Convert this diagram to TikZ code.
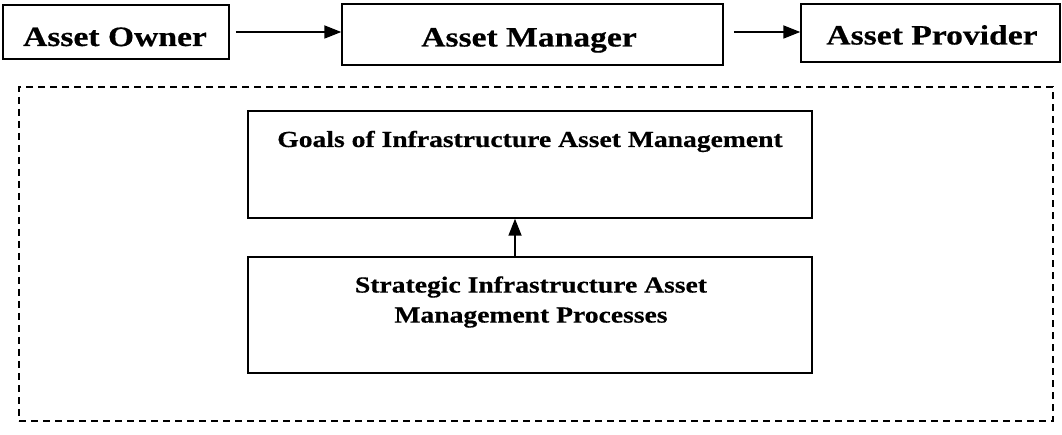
\documentclass[tikz,border=0pt]{standalone}
\usepackage{fontspec}
\setmainfont{Liberation Serif}[FakeStretch=1.2,BoldFeatures={FakeBold=0.5}]
\usetikzlibrary{arrows.meta}
\begin{document}
\begin{tikzpicture}[x=1pt,y=-1pt,
  boxnode/.style={draw=black,line width=1.5pt,rectangle,inner sep=0pt},
  bigtext/.style={font=\bfseries\fontsize{28}{34}\selectfont,inner sep=0pt,anchor=base},
  smalltext/.style={font=\bfseries\fontsize{23}{30}\selectfont,inner sep=0pt,align=center},
  arr/.style={line width=1.8pt,-{Triangle[length=17pt,width=13pt]}},
  dashbox/.style={draw=black,line width=1.3pt,dash pattern=on 7pt off 5pt,rectangle,inner sep=0pt}]
\useasboundingbox[fill=white] (0,0) rectangle (1062,435);
% top row
\node[boxnode,minimum width=226pt,minimum height=54pt] (owner) at (116,32) {};
\node[boxnode,minimum width=381pt,minimum height=61pt] (manager) at (532.5,34.5) {};
\node[boxnode,minimum width=259pt,minimum height=58pt] (provider) at (930.5,33) {};
\node[bigtext] (ownert) at (115,46) {Asset Owner};
\node[bigtext] (managert) at (529,46.5) {Asset Manager};
\node[bigtext] (providert) at (932,44.5) {Asset Provider};
\draw[arr,shorten <=6pt] (owner.east) -- (owner.east -| manager.west);
\draw[arr,shorten <=10pt] (manager.east |- owner.east) -- (owner.east -| provider.west);
% dashed region
\node[dashbox,minimum width=1034pt,minimum height=334pt] (region) at (536,254) {};
\node[boxnode,minimum width=564pt,minimum height=107pt] (goals) at (530,164.5) {};
\node[boxnode,minimum width=564pt,minimum height=116pt] (strategic) at (530,315) {};
\node[smalltext,anchor=base] (goalst) at (530,147) {Goals of Infrastructure Asset Management};
\node[smalltext] (strategict) at (531,302) {Strategic Infrastructure Asset\\Management Processes};
\draw[arr] ([xshift=-15pt]strategic.north) -- ([xshift=-15pt]goals.south);
\end{tikzpicture}
\end{document}
